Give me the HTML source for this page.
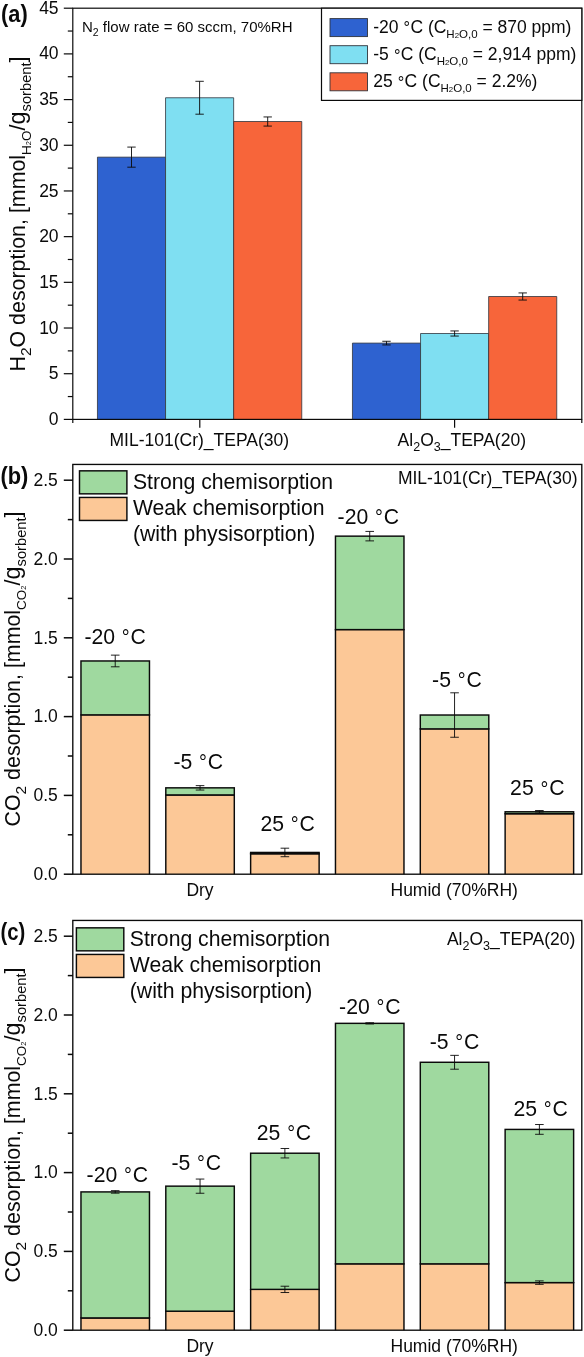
<!DOCTYPE html>
<html lang="en"><head><meta charset="utf-8"><title>Figure</title>
<style>html,body{margin:0;padding:0;background:#fff}svg{display:block;will-change:transform}</style></head>
<body>
<svg width="584" height="1357" viewBox="0 0 584 1357" font-family='"Liberation Sans", Arial, sans-serif' fill="#0a0a0a">
<rect width="584" height="1357" fill="#fff"/>
<rect x="97.45" y="157.15" width="68.10" height="262.25" fill="#2e62d0"/>
<path d="M97.45 419.40V157.15H165.55V419.40" fill="none" stroke="#30343c" stroke-width="0.8"/>
<rect x="165.55" y="97.75" width="68.10" height="321.65" fill="#7fdff2"/>
<path d="M165.55 419.40V97.75H233.65V419.40" fill="none" stroke="#30343c" stroke-width="0.8"/>
<rect x="233.65" y="121.51" width="68.10" height="297.89" fill="#f7653a"/>
<path d="M233.65 419.40V121.51H301.75V419.40" fill="none" stroke="#30343c" stroke-width="0.8"/>
<line x1="131.50" y1="147.09" x2="131.50" y2="167.20" stroke="#0a0a0a" stroke-width="0.9"/>
<line x1="127.30" y1="147.09" x2="135.70" y2="147.09" stroke="#0a0a0a" stroke-width="0.9"/>
<line x1="127.30" y1="167.20" x2="135.70" y2="167.20" stroke="#0a0a0a" stroke-width="0.9"/>
<line x1="199.60" y1="81.30" x2="199.60" y2="114.20" stroke="#0a0a0a" stroke-width="0.9"/>
<line x1="195.40" y1="81.30" x2="203.80" y2="81.30" stroke="#0a0a0a" stroke-width="0.9"/>
<line x1="195.40" y1="114.20" x2="203.80" y2="114.20" stroke="#0a0a0a" stroke-width="0.9"/>
<line x1="267.70" y1="116.94" x2="267.70" y2="126.08" stroke="#0a0a0a" stroke-width="0.9"/>
<line x1="263.50" y1="116.94" x2="271.90" y2="116.94" stroke="#0a0a0a" stroke-width="0.9"/>
<line x1="263.50" y1="126.08" x2="271.90" y2="126.08" stroke="#0a0a0a" stroke-width="0.9"/>
<rect x="352.45" y="343.10" width="68.10" height="76.30" fill="#2e62d0"/>
<path d="M352.45 419.40V343.10H420.55V419.40" fill="none" stroke="#30343c" stroke-width="0.8"/>
<rect x="420.55" y="333.50" width="68.10" height="85.90" fill="#7fdff2"/>
<path d="M420.55 419.40V333.50H488.65V419.40" fill="none" stroke="#30343c" stroke-width="0.8"/>
<rect x="488.65" y="296.50" width="68.10" height="122.90" fill="#f7653a"/>
<path d="M488.65 419.40V296.50H556.75V419.40" fill="none" stroke="#30343c" stroke-width="0.8"/>
<line x1="386.50" y1="341.27" x2="386.50" y2="344.93" stroke="#0a0a0a" stroke-width="0.9"/>
<line x1="382.30" y1="341.27" x2="390.70" y2="341.27" stroke="#0a0a0a" stroke-width="0.9"/>
<line x1="382.30" y1="344.93" x2="390.70" y2="344.93" stroke="#0a0a0a" stroke-width="0.9"/>
<line x1="454.60" y1="330.95" x2="454.60" y2="336.06" stroke="#0a0a0a" stroke-width="0.9"/>
<line x1="450.40" y1="330.95" x2="458.80" y2="330.95" stroke="#0a0a0a" stroke-width="0.9"/>
<line x1="450.40" y1="336.06" x2="458.80" y2="336.06" stroke="#0a0a0a" stroke-width="0.9"/>
<line x1="522.70" y1="292.93" x2="522.70" y2="300.06" stroke="#0a0a0a" stroke-width="0.9"/>
<line x1="518.50" y1="292.93" x2="526.90" y2="292.93" stroke="#0a0a0a" stroke-width="0.9"/>
<line x1="518.50" y1="300.06" x2="526.90" y2="300.06" stroke="#0a0a0a" stroke-width="0.9"/>
<rect x="72.8" y="8.2" width="508.99999999999994" height="411.20" fill="none" stroke="#0a0a0a" stroke-width="1.2"/>
<line x1="63.80" y1="419.40" x2="72.80" y2="419.40" stroke="#0a0a0a" stroke-width="1.2"/>
<text x="58.60" y="425.00" font-size="17.5" text-anchor="end" >0</text>
<line x1="63.80" y1="373.71" x2="72.80" y2="373.71" stroke="#0a0a0a" stroke-width="1.2"/>
<text x="58.60" y="379.31" font-size="17.5" text-anchor="end" >5</text>
<line x1="63.80" y1="328.02" x2="72.80" y2="328.02" stroke="#0a0a0a" stroke-width="1.2"/>
<text x="58.60" y="333.62" font-size="17.5" text-anchor="end" >10</text>
<line x1="63.80" y1="282.33" x2="72.80" y2="282.33" stroke="#0a0a0a" stroke-width="1.2"/>
<text x="58.60" y="287.93" font-size="17.5" text-anchor="end" >15</text>
<line x1="63.80" y1="236.64" x2="72.80" y2="236.64" stroke="#0a0a0a" stroke-width="1.2"/>
<text x="58.60" y="242.24" font-size="17.5" text-anchor="end" >20</text>
<line x1="63.80" y1="190.96" x2="72.80" y2="190.96" stroke="#0a0a0a" stroke-width="1.2"/>
<text x="58.60" y="196.56" font-size="17.5" text-anchor="end" >25</text>
<line x1="63.80" y1="145.27" x2="72.80" y2="145.27" stroke="#0a0a0a" stroke-width="1.2"/>
<text x="58.60" y="150.87" font-size="17.5" text-anchor="end" >30</text>
<line x1="63.80" y1="99.58" x2="72.80" y2="99.58" stroke="#0a0a0a" stroke-width="1.2"/>
<text x="58.60" y="105.18" font-size="17.5" text-anchor="end" >35</text>
<line x1="63.80" y1="53.89" x2="72.80" y2="53.89" stroke="#0a0a0a" stroke-width="1.2"/>
<text x="58.60" y="59.49" font-size="17.5" text-anchor="end" >40</text>
<line x1="63.80" y1="8.20" x2="72.80" y2="8.20" stroke="#0a0a0a" stroke-width="1.2"/>
<text x="58.60" y="13.80" font-size="17.5" text-anchor="end" >45</text>
<line x1="67.80" y1="396.56" x2="72.80" y2="396.56" stroke="#0a0a0a" stroke-width="1.2"/>
<line x1="67.80" y1="350.87" x2="72.80" y2="350.87" stroke="#0a0a0a" stroke-width="1.2"/>
<line x1="67.80" y1="305.18" x2="72.80" y2="305.18" stroke="#0a0a0a" stroke-width="1.2"/>
<line x1="67.80" y1="259.49" x2="72.80" y2="259.49" stroke="#0a0a0a" stroke-width="1.2"/>
<line x1="67.80" y1="213.80" x2="72.80" y2="213.80" stroke="#0a0a0a" stroke-width="1.2"/>
<line x1="67.80" y1="168.11" x2="72.80" y2="168.11" stroke="#0a0a0a" stroke-width="1.2"/>
<line x1="67.80" y1="122.42" x2="72.80" y2="122.42" stroke="#0a0a0a" stroke-width="1.2"/>
<line x1="67.80" y1="76.73" x2="72.80" y2="76.73" stroke="#0a0a0a" stroke-width="1.2"/>
<line x1="67.80" y1="31.04" x2="72.80" y2="31.04" stroke="#0a0a0a" stroke-width="1.2"/>
<line x1="199.80" y1="419.40" x2="199.80" y2="427.70" stroke="#0a0a0a" stroke-width="1.2"/>
<line x1="454.60" y1="419.40" x2="454.60" y2="427.70" stroke="#0a0a0a" stroke-width="1.2"/>
<line x1="72.80" y1="419.40" x2="72.80" y2="422.90" stroke="#0a0a0a" stroke-width="1.2"/>
<line x1="581.80" y1="419.40" x2="581.80" y2="422.90" stroke="#0a0a0a" stroke-width="1.2"/>
<text x="199.30" y="446.20" font-size="17.5" text-anchor="middle" >MIL-101(Cr)_TEPA(30)</text>
<text x="461.80" y="446.20" font-size="17.5" text-anchor="middle" >Al<tspan font-size="12.5" dy="4.8">2</tspan><tspan dy="-4.8">O</tspan><tspan font-size="12.5" dy="4.8">3</tspan><tspan dy="-4.8">_TEPA(20)</tspan></text>
<text x="82.00" y="32.20" font-size="15.0" text-anchor="start" >N<tspan font-size="10.5" dy="4.2">2</tspan><tspan dy="-4.2"> flow rate = 60 sccm, 70%RH</tspan></text>
<rect x="321.50" y="8.20" width="260.30" height="92.20" fill="#fff" stroke="#0a0a0a" stroke-width="1.2"/>
<rect x="330.00" y="18.60" width="37.50" height="18.00" fill="#2e62d0" stroke="#30343c" stroke-width="0.9"/>
<text x="373.2" y="33.10" font-size="17.5">-20 <tspan font-size="16.3" dx="0.26" dy="0.3">°</tspan><tspan font-size="17.5" dx="0.26" dy="-0.3">C</tspan> (C<tspan font-size="11.5" dy="4.5">H</tspan><tspan font-size="7.8">2</tspan><tspan font-size="11.5">O,0</tspan><tspan dy="-4.5"> = 870 ppm)</tspan></text>
<rect x="330.00" y="45.70" width="37.50" height="18.00" fill="#7fdff2" stroke="#30343c" stroke-width="0.9"/>
<text x="373.2" y="60.20" font-size="17.5">-5 <tspan font-size="16.3" dx="0.26" dy="0.3">°</tspan><tspan font-size="17.5" dx="0.26" dy="-0.3">C</tspan> (C<tspan font-size="11.5" dy="4.5">H</tspan><tspan font-size="7.8">2</tspan><tspan font-size="11.5">O,0</tspan><tspan dy="-4.5"> = 2,914 ppm)</tspan></text>
<rect x="330.00" y="72.80" width="37.50" height="18.00" fill="#f7653a" stroke="#30343c" stroke-width="0.9"/>
<text x="373.2" y="87.30" font-size="17.5">25 <tspan font-size="16.3" dx="0.26" dy="0.3">°</tspan><tspan font-size="17.5" dx="0.26" dy="-0.3">C</tspan> (C<tspan font-size="11.5" dy="4.5">H</tspan><tspan font-size="7.8">2</tspan><tspan font-size="11.5">O,0</tspan><tspan dy="-4.5"> = 2.2%)</tspan></text>
<text transform="translate(25.4,214.00) rotate(-90)" font-size="21.4" text-anchor="middle">H<tspan font-size="15.5" dy="6">2</tspan><tspan dy="-6">O desorption, [mmol</tspan><tspan font-size="13.5" dy="5.4">H</tspan><tspan font-size="7.5">2</tspan><tspan font-size="13.5">O</tspan><tspan dy="-5.4">/</tspan><tspan font-size="23.5">g</tspan><tspan font-size="14.7" dy="5.4">sorbent</tspan><tspan dy="-5.4">]</tspan></text>
<text transform="translate(1,22) scale(0.925,1)" font-size="23.6" font-weight="bold">(a)</text>
<rect x="80.97" y="714.87" width="68.50" height="159.33" fill="#fcc897"/>
<path d="M80.97 874.20V714.87H149.47V874.20" fill="none" stroke="#0a0a0a" stroke-width="1.45"/>
<rect x="80.97" y="660.97" width="68.50" height="53.90" fill="#9fd99f" stroke="#0a0a0a" stroke-width="1.45"/>
<line x1="115.22" y1="655.14" x2="115.22" y2="666.80" stroke="#0a0a0a" stroke-width="0.9"/>
<line x1="110.92" y1="655.14" x2="119.52" y2="655.14" stroke="#0a0a0a" stroke-width="0.9"/>
<line x1="110.92" y1="666.80" x2="119.52" y2="666.80" stroke="#0a0a0a" stroke-width="0.9"/>
<rect x="165.80" y="794.93" width="68.50" height="79.27" fill="#fcc897"/>
<path d="M165.80 874.20V794.93H234.30V874.20" fill="none" stroke="#0a0a0a" stroke-width="1.45"/>
<rect x="165.80" y="787.84" width="68.50" height="7.09" fill="#9fd99f" stroke="#0a0a0a" stroke-width="1.45"/>
<line x1="200.05" y1="785.63" x2="200.05" y2="790.04" stroke="#0a0a0a" stroke-width="0.9"/>
<line x1="195.75" y1="785.63" x2="204.35" y2="785.63" stroke="#0a0a0a" stroke-width="0.9"/>
<line x1="195.75" y1="790.04" x2="204.35" y2="790.04" stroke="#0a0a0a" stroke-width="0.9"/>
<rect x="250.63" y="853.71" width="68.50" height="20.49" fill="#fcc897"/>
<path d="M250.63 874.20V853.71H319.13V874.20" fill="none" stroke="#0a0a0a" stroke-width="1.45"/>
<rect x="250.63" y="852.45" width="68.50" height="1.26" fill="#9fd99f" stroke="#0a0a0a" stroke-width="1.45"/>
<line x1="284.88" y1="848.20" x2="284.88" y2="856.71" stroke="#0a0a0a" stroke-width="0.9"/>
<line x1="280.58" y1="848.20" x2="289.18" y2="848.20" stroke="#0a0a0a" stroke-width="0.9"/>
<line x1="280.58" y1="856.71" x2="289.18" y2="856.71" stroke="#0a0a0a" stroke-width="0.9"/>
<rect x="335.47" y="629.60" width="68.50" height="244.60" fill="#fcc897"/>
<path d="M335.47 874.20V629.60H403.97V874.20" fill="none" stroke="#0a0a0a" stroke-width="1.45"/>
<rect x="335.47" y="536.15" width="68.50" height="93.46" fill="#9fd99f" stroke="#0a0a0a" stroke-width="1.45"/>
<line x1="369.72" y1="531.42" x2="369.72" y2="540.88" stroke="#0a0a0a" stroke-width="0.9"/>
<line x1="365.42" y1="531.42" x2="374.02" y2="531.42" stroke="#0a0a0a" stroke-width="0.9"/>
<line x1="365.42" y1="540.88" x2="374.02" y2="540.88" stroke="#0a0a0a" stroke-width="0.9"/>
<rect x="420.30" y="728.89" width="68.50" height="145.31" fill="#fcc897"/>
<path d="M420.30 874.20V728.89H488.80V874.20" fill="none" stroke="#0a0a0a" stroke-width="1.45"/>
<rect x="420.30" y="715.02" width="68.50" height="13.87" fill="#9fd99f" stroke="#0a0a0a" stroke-width="1.45"/>
<line x1="454.55" y1="692.80" x2="454.55" y2="737.25" stroke="#0a0a0a" stroke-width="0.9"/>
<line x1="450.25" y1="692.80" x2="458.85" y2="692.80" stroke="#0a0a0a" stroke-width="0.9"/>
<line x1="450.25" y1="737.25" x2="458.85" y2="737.25" stroke="#0a0a0a" stroke-width="0.9"/>
<rect x="505.13" y="813.68" width="68.50" height="60.52" fill="#fcc897"/>
<path d="M505.13 874.20V813.68H573.63V874.20" fill="none" stroke="#0a0a0a" stroke-width="1.45"/>
<rect x="505.13" y="811.79" width="68.50" height="1.89" fill="#9fd99f" stroke="#0a0a0a" stroke-width="1.45"/>
<line x1="539.38" y1="810.53" x2="539.38" y2="813.05" stroke="#0a0a0a" stroke-width="0.9"/>
<line x1="535.08" y1="810.53" x2="543.68" y2="810.53" stroke="#0a0a0a" stroke-width="0.9"/>
<line x1="535.08" y1="813.05" x2="543.68" y2="813.05" stroke="#0a0a0a" stroke-width="0.9"/>
<rect x="72.8" y="464.44" width="508.99999999999994" height="409.76" fill="none" stroke="#0a0a0a" stroke-width="1.35"/>
<line x1="63.80" y1="874.20" x2="72.80" y2="874.20" stroke="#0a0a0a" stroke-width="1.5"/>
<text x="57.80" y="880.00" font-size="17.5" text-anchor="end" >0.0</text>
<line x1="63.80" y1="795.40" x2="72.80" y2="795.40" stroke="#0a0a0a" stroke-width="1.5"/>
<text x="57.80" y="801.20" font-size="17.5" text-anchor="end" >0.5</text>
<line x1="63.80" y1="716.60" x2="72.80" y2="716.60" stroke="#0a0a0a" stroke-width="1.5"/>
<text x="57.80" y="722.40" font-size="17.5" text-anchor="end" >1.0</text>
<line x1="63.80" y1="637.80" x2="72.80" y2="637.80" stroke="#0a0a0a" stroke-width="1.5"/>
<text x="57.80" y="643.60" font-size="17.5" text-anchor="end" >1.5</text>
<line x1="63.80" y1="559.00" x2="72.80" y2="559.00" stroke="#0a0a0a" stroke-width="1.5"/>
<text x="57.80" y="564.80" font-size="17.5" text-anchor="end" >2.0</text>
<line x1="63.80" y1="480.20" x2="72.80" y2="480.20" stroke="#0a0a0a" stroke-width="1.5"/>
<text x="57.80" y="486.00" font-size="17.5" text-anchor="end" >2.5</text>
<line x1="67.80" y1="834.80" x2="72.80" y2="834.80" stroke="#0a0a0a" stroke-width="1.5"/>
<line x1="67.80" y1="756.00" x2="72.80" y2="756.00" stroke="#0a0a0a" stroke-width="1.5"/>
<line x1="67.80" y1="677.20" x2="72.80" y2="677.20" stroke="#0a0a0a" stroke-width="1.5"/>
<line x1="67.80" y1="598.40" x2="72.80" y2="598.40" stroke="#0a0a0a" stroke-width="1.5"/>
<line x1="67.80" y1="519.60" x2="72.80" y2="519.60" stroke="#0a0a0a" stroke-width="1.5"/>
<text x="200.00" y="896.20" font-size="17.5" text-anchor="middle" >Dry</text>
<text x="454.20" y="896.20" font-size="17.5" text-anchor="middle" >Humid (70%RH)</text>
<text x="115.20" y="643.80" font-size="21.2" text-anchor="middle" >-20 <tspan font-size="19.7" dx="0.85" dy="0.3">°</tspan><tspan font-size="21.2" dx="0.85" dy="-0.3">C</tspan></text>
<text x="198.20" y="768.70" font-size="21.2" text-anchor="middle" >-5 <tspan font-size="19.7" dx="0.85" dy="0.3">°</tspan><tspan font-size="21.2" dx="0.85" dy="-0.3">C</tspan></text>
<text x="287.70" y="830.80" font-size="21.2" text-anchor="middle" >25 <tspan font-size="19.7" dx="0.85" dy="0.3">°</tspan><tspan font-size="21.2" dx="0.85" dy="-0.3">C</tspan></text>
<text x="368.30" y="523.60" font-size="21.2" text-anchor="middle" >-20 <tspan font-size="19.7" dx="0.85" dy="0.3">°</tspan><tspan font-size="21.2" dx="0.85" dy="-0.3">C</tspan></text>
<text x="456.90" y="686.90" font-size="21.2" text-anchor="middle" >-5 <tspan font-size="19.7" dx="0.85" dy="0.3">°</tspan><tspan font-size="21.2" dx="0.85" dy="-0.3">C</tspan></text>
<text x="537.30" y="795.30" font-size="21.2" text-anchor="middle" >25 <tspan font-size="19.7" dx="0.85" dy="0.3">°</tspan><tspan font-size="21.2" dx="0.85" dy="-0.3">C</tspan></text>
<rect x="79.50" y="470.84" width="47.40" height="23.00" fill="#9fd99f" stroke="#0a0a0a" stroke-width="1.45"/>
<rect x="79.50" y="497.44" width="47.40" height="23.00" fill="#fcc897" stroke="#0a0a0a" stroke-width="1.45"/>
<text x="132.90" y="489.04" font-size="21.2" text-anchor="start" >Strong chemisorption</text>
<text x="132.90" y="515.24" font-size="21.2" text-anchor="start" >Weak chemisorption</text>
<text x="132.90" y="541.34" font-size="21.2" text-anchor="start" >(with physisorption)</text>
<text x="577.50" y="484.34" font-size="17.5" text-anchor="end" >MIL-101(Cr)_TEPA(30)</text>
<text transform="translate(20.4,669.02) rotate(-90)" font-size="21.4" text-anchor="middle">CO<tspan font-size="15.5" dy="6">2</tspan><tspan dy="-6"> desorption, [mmol</tspan><tspan font-size="13.5" dy="5.4">CO</tspan><tspan font-size="7.5">2</tspan><tspan font-size="21.4" dy="-5.4">/</tspan><tspan font-size="23.5">g</tspan><tspan font-size="14.7" dy="5.4">sorbent</tspan><tspan font-size="21.4" dy="-5.4">]</tspan></text>
<text transform="translate(0.5,484.14) scale(0.925,1)" font-size="23.6" font-weight="bold">(b)</text>
<rect x="80.97" y="1317.91" width="68.50" height="12.29" fill="#fcc897"/>
<path d="M80.97 1330.20V1317.91H149.47V1330.20" fill="none" stroke="#0a0a0a" stroke-width="1.45"/>
<rect x="80.97" y="1191.91" width="68.50" height="126.00" fill="#9fd99f" stroke="#0a0a0a" stroke-width="1.45"/>
<line x1="115.22" y1="1190.65" x2="115.22" y2="1193.17" stroke="#0a0a0a" stroke-width="0.9"/>
<line x1="110.92" y1="1190.65" x2="119.52" y2="1190.65" stroke="#0a0a0a" stroke-width="0.9"/>
<line x1="110.92" y1="1193.17" x2="119.52" y2="1193.17" stroke="#0a0a0a" stroke-width="0.9"/>
<rect x="165.80" y="1311.19" width="68.50" height="19.01" fill="#fcc897"/>
<path d="M165.80 1330.20V1311.19H234.30V1330.20" fill="none" stroke="#0a0a0a" stroke-width="1.45"/>
<rect x="165.80" y="1186.15" width="68.50" height="125.04" fill="#9fd99f" stroke="#0a0a0a" stroke-width="1.45"/>
<line x1="200.05" y1="1179.06" x2="200.05" y2="1193.25" stroke="#0a0a0a" stroke-width="0.9"/>
<line x1="195.75" y1="1179.06" x2="204.35" y2="1179.06" stroke="#0a0a0a" stroke-width="0.9"/>
<line x1="195.75" y1="1193.25" x2="204.35" y2="1193.25" stroke="#0a0a0a" stroke-width="0.9"/>
<rect x="250.63" y="1289.38" width="68.50" height="40.82" fill="#fcc897"/>
<path d="M250.63 1330.20V1289.38H319.13V1330.20" fill="none" stroke="#0a0a0a" stroke-width="1.45"/>
<rect x="250.63" y="1153.22" width="68.50" height="136.17" fill="#9fd99f" stroke="#0a0a0a" stroke-width="1.45"/>
<line x1="284.88" y1="1148.49" x2="284.88" y2="1157.94" stroke="#0a0a0a" stroke-width="0.9"/>
<line x1="280.58" y1="1148.49" x2="289.18" y2="1148.49" stroke="#0a0a0a" stroke-width="0.9"/>
<line x1="280.58" y1="1157.94" x2="289.18" y2="1157.94" stroke="#0a0a0a" stroke-width="0.9"/>
<rect x="335.47" y="1263.85" width="68.50" height="66.35" fill="#fcc897"/>
<path d="M335.47 1330.20V1263.85H403.97V1330.20" fill="none" stroke="#0a0a0a" stroke-width="1.45"/>
<rect x="335.47" y="1023.35" width="68.50" height="240.50" fill="#9fd99f" stroke="#0a0a0a" stroke-width="1.45"/>
<line x1="369.72" y1="1022.72" x2="369.72" y2="1023.98" stroke="#0a0a0a" stroke-width="0.9"/>
<line x1="365.42" y1="1022.72" x2="374.02" y2="1022.72" stroke="#0a0a0a" stroke-width="0.9"/>
<line x1="365.42" y1="1023.98" x2="374.02" y2="1023.98" stroke="#0a0a0a" stroke-width="0.9"/>
<rect x="420.30" y="1263.85" width="68.50" height="66.35" fill="#fcc897"/>
<path d="M420.30 1330.20V1263.85H488.80V1330.20" fill="none" stroke="#0a0a0a" stroke-width="1.45"/>
<rect x="420.30" y="1062.28" width="68.50" height="201.57" fill="#9fd99f" stroke="#0a0a0a" stroke-width="1.45"/>
<line x1="454.55" y1="1055.35" x2="454.55" y2="1069.21" stroke="#0a0a0a" stroke-width="0.9"/>
<line x1="450.25" y1="1055.35" x2="458.85" y2="1055.35" stroke="#0a0a0a" stroke-width="0.9"/>
<line x1="450.25" y1="1069.21" x2="458.85" y2="1069.21" stroke="#0a0a0a" stroke-width="0.9"/>
<rect x="505.13" y="1282.60" width="68.50" height="47.60" fill="#fcc897"/>
<path d="M505.13 1330.20V1282.60H573.63V1330.20" fill="none" stroke="#0a0a0a" stroke-width="1.45"/>
<rect x="505.13" y="1129.42" width="68.50" height="153.19" fill="#9fd99f" stroke="#0a0a0a" stroke-width="1.45"/>
<line x1="539.38" y1="1124.53" x2="539.38" y2="1134.30" stroke="#0a0a0a" stroke-width="0.9"/>
<line x1="535.08" y1="1124.53" x2="543.68" y2="1124.53" stroke="#0a0a0a" stroke-width="0.9"/>
<line x1="535.08" y1="1134.30" x2="543.68" y2="1134.30" stroke="#0a0a0a" stroke-width="0.9"/>
<line x1="284.88" y1="1286.23" x2="284.88" y2="1292.53" stroke="#0a0a0a" stroke-width="0.9"/>
<line x1="280.58" y1="1286.23" x2="289.18" y2="1286.23" stroke="#0a0a0a" stroke-width="0.9"/>
<line x1="280.58" y1="1292.53" x2="289.18" y2="1292.53" stroke="#0a0a0a" stroke-width="0.9"/>
<line x1="539.38" y1="1280.87" x2="539.38" y2="1284.34" stroke="#0a0a0a" stroke-width="0.9"/>
<line x1="535.08" y1="1280.87" x2="543.68" y2="1280.87" stroke="#0a0a0a" stroke-width="0.9"/>
<line x1="535.08" y1="1284.34" x2="543.68" y2="1284.34" stroke="#0a0a0a" stroke-width="0.9"/>
<rect x="72.8" y="920.44" width="508.99999999999994" height="409.76" fill="none" stroke="#0a0a0a" stroke-width="1.35"/>
<line x1="63.80" y1="1330.20" x2="72.80" y2="1330.20" stroke="#0a0a0a" stroke-width="1.5"/>
<text x="57.80" y="1336.00" font-size="17.5" text-anchor="end" >0.0</text>
<line x1="63.80" y1="1251.40" x2="72.80" y2="1251.40" stroke="#0a0a0a" stroke-width="1.5"/>
<text x="57.80" y="1257.20" font-size="17.5" text-anchor="end" >0.5</text>
<line x1="63.80" y1="1172.60" x2="72.80" y2="1172.60" stroke="#0a0a0a" stroke-width="1.5"/>
<text x="57.80" y="1178.40" font-size="17.5" text-anchor="end" >1.0</text>
<line x1="63.80" y1="1093.80" x2="72.80" y2="1093.80" stroke="#0a0a0a" stroke-width="1.5"/>
<text x="57.80" y="1099.60" font-size="17.5" text-anchor="end" >1.5</text>
<line x1="63.80" y1="1015.00" x2="72.80" y2="1015.00" stroke="#0a0a0a" stroke-width="1.5"/>
<text x="57.80" y="1020.80" font-size="17.5" text-anchor="end" >2.0</text>
<line x1="63.80" y1="936.20" x2="72.80" y2="936.20" stroke="#0a0a0a" stroke-width="1.5"/>
<text x="57.80" y="942.00" font-size="17.5" text-anchor="end" >2.5</text>
<line x1="67.80" y1="1290.80" x2="72.80" y2="1290.80" stroke="#0a0a0a" stroke-width="1.5"/>
<line x1="67.80" y1="1212.00" x2="72.80" y2="1212.00" stroke="#0a0a0a" stroke-width="1.5"/>
<line x1="67.80" y1="1133.20" x2="72.80" y2="1133.20" stroke="#0a0a0a" stroke-width="1.5"/>
<line x1="67.80" y1="1054.40" x2="72.80" y2="1054.40" stroke="#0a0a0a" stroke-width="1.5"/>
<line x1="67.80" y1="975.60" x2="72.80" y2="975.60" stroke="#0a0a0a" stroke-width="1.5"/>
<text x="200.00" y="1352.20" font-size="17.5" text-anchor="middle" >Dry</text>
<text x="454.20" y="1352.20" font-size="17.5" text-anchor="middle" >Humid (70%RH)</text>
<text x="117.30" y="1181.80" font-size="21.2" text-anchor="middle" >-20 <tspan font-size="19.7" dx="0.85" dy="0.3">°</tspan><tspan font-size="21.2" dx="0.85" dy="-0.3">C</tspan></text>
<text x="196.20" y="1170.00" font-size="21.2" text-anchor="middle" >-5 <tspan font-size="19.7" dx="0.85" dy="0.3">°</tspan><tspan font-size="21.2" dx="0.85" dy="-0.3">C</tspan></text>
<text x="284.00" y="1139.90" font-size="21.2" text-anchor="middle" >25 <tspan font-size="19.7" dx="0.85" dy="0.3">°</tspan><tspan font-size="21.2" dx="0.85" dy="-0.3">C</tspan></text>
<text x="369.80" y="1013.70" font-size="21.2" text-anchor="middle" >-20 <tspan font-size="19.7" dx="0.85" dy="0.3">°</tspan><tspan font-size="21.2" dx="0.85" dy="-0.3">C</tspan></text>
<text x="454.60" y="1048.60" font-size="21.2" text-anchor="middle" >-5 <tspan font-size="19.7" dx="0.85" dy="0.3">°</tspan><tspan font-size="21.2" dx="0.85" dy="-0.3">C</tspan></text>
<text x="540.70" y="1116.10" font-size="21.2" text-anchor="middle" >25 <tspan font-size="19.7" dx="0.85" dy="0.3">°</tspan><tspan font-size="21.2" dx="0.85" dy="-0.3">C</tspan></text>
<rect x="76.40" y="927.84" width="47.40" height="23.00" fill="#9fd99f" stroke="#0a0a0a" stroke-width="1.45"/>
<rect x="76.40" y="954.44" width="47.40" height="23.00" fill="#fcc897" stroke="#0a0a0a" stroke-width="1.45"/>
<text x="129.80" y="946.04" font-size="21.2" text-anchor="start" >Strong chemisorption</text>
<text x="129.80" y="972.24" font-size="21.2" text-anchor="start" >Weak chemisorption</text>
<text x="129.80" y="998.34" font-size="21.2" text-anchor="start" >(with physisorption)</text>
<text x="575.30" y="945.04" font-size="17.5" text-anchor="end" >Al<tspan font-size="12.5" dy="4.8">2</tspan><tspan dy="-4.8">O</tspan><tspan font-size="12.5" dy="4.8">3</tspan><tspan dy="-4.8">_TEPA(20)</tspan></text>
<text transform="translate(20.4,1125.02) rotate(-90)" font-size="21.4" text-anchor="middle">CO<tspan font-size="15.5" dy="6">2</tspan><tspan dy="-6"> desorption, [mmol</tspan><tspan font-size="13.5" dy="5.4">CO</tspan><tspan font-size="7.5">2</tspan><tspan font-size="21.4" dy="-5.4">/</tspan><tspan font-size="23.5">g</tspan><tspan font-size="14.7" dy="5.4">sorbent</tspan><tspan font-size="21.4" dy="-5.4">]</tspan></text>
<text transform="translate(0.5,940.14) scale(0.86,1)" font-size="23.6" font-weight="bold">(c)</text>
</svg>
</body></html>
